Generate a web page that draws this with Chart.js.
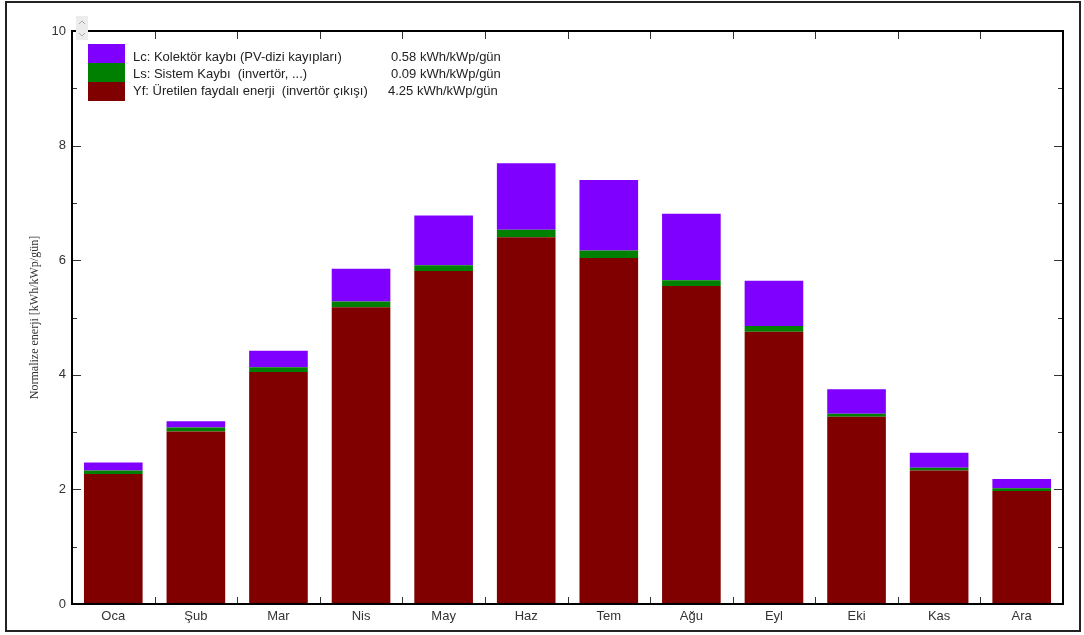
<!DOCTYPE html>
<html>
<head>
<meta charset="utf-8">
<script src="https://cdn.jsdelivr.net/npm/chart.js@4"></script>
<style>
  html, body { margin: 0; padding: 0; background: #fff; }
  #wrap { position: relative; width: 1084px; height: 635px; }
</style>
</head>
<body>
<div id="wrap"><canvas id="energyChart" width="1084" height="635"></canvas></div>
<script>
// Monthly normalized energy [kWh/kWp/gün]
const months = ['Oca', 'Şub', 'Mar', 'Nis', 'May', 'Haz', 'Tem', 'Ağu', 'Eyl', 'Eki', 'Kas', 'Ara'];
const yfValues = [2.27, 3.01, 4.05, 5.18, 5.81, 6.40, 6.04, 5.55, 4.75, 3.27, 2.33, 1.97];
const lsValues = [0.06, 0.07, 0.08, 0.10, 0.10, 0.13, 0.13, 0.10, 0.10, 0.05, 0.05, 0.05];
const lcValues = [0.14, 0.11, 0.29, 0.57, 0.87, 1.16, 1.23, 1.16, 0.79, 0.43, 0.26, 0.16];

const legendLabels = [
    'Lc: Kolektör kaybı (PV-dizi kayıpları)',
    'Ls: Sistem Kaybı  (invertör, ...)',
    'Yf: Üretilen faydalı enerji  (invertör çıkışı)'
];
const legendAverages = ['0.58 kWh/kWp/gün', '0.09 kWh/kWp/gün', '4.25 kWh/kWp/gün'];
const legendColors = ['#8000ff', '#008000', '#800000'];

const textColor = '#333';
const sansFont = "Arial, 'Liberation Sans', sans-serif";

// frame, inward ticks, legend box and the little scroll arrows
const framePlugin = {
    id: 'frame',
    beforeDraw(chart) {
        const ctx = chart.ctx;
        ctx.save();
        ctx.strokeStyle = '#222';
        ctx.lineWidth = 2;
        ctx.strokeRect(6, 2, chart.width - 10, chart.height - 6);
        ctx.restore();
    },
    afterDraw(chart) {
        const { ctx, chartArea: a, scales: { x, y } } = chart;
        ctx.save();

        // tick marks on the left and right axes
        ctx.strokeStyle = '#333';
        ctx.lineWidth = 1;
        ctx.beginPath();
        y.ticks.forEach(t => {
            const py = Math.round(y.getPixelForValue(t.value)) + 0.5;
            const len = t.value % 2 === 0 ? 9 : 5;
            ctx.moveTo(a.left, py);
            ctx.lineTo(a.left + len, py);
            ctx.moveTo(a.right, py);
            ctx.lineTo(a.right - len, py);
        });
        // tick marks between months, top and bottom
        for (let i = 1; i < months.length; i++) {
            const px = Math.round((x.getPixelForValue(i - 1) + x.getPixelForValue(i)) / 2) + 0.5;
            ctx.moveTo(px, a.top);
            ctx.lineTo(px, a.top + 8);
            ctx.moveTo(px, a.bottom);
            ctx.lineTo(px, a.bottom - 7);
        }
        ctx.stroke();

        // plot border
        ctx.strokeStyle = '#000';
        ctx.lineWidth = 2;
        ctx.strokeRect(a.left, a.top, a.right - a.left, a.bottom - a.top);

        // scroll arrows next to the top label
        ctx.fillStyle = '#ececec';
        ctx.fillRect(a.left + 4, a.top - 15, 12, 24);
        ctx.strokeStyle = '#aaa';
        ctx.lineWidth = 1;
        ctx.beginPath();
        ctx.moveTo(a.left + 7, a.top - 7);
        ctx.lineTo(a.left + 10, a.top - 10);
        ctx.lineTo(a.left + 13, a.top - 7);
        ctx.moveTo(a.left + 7, a.top + 2);
        ctx.lineTo(a.left + 10, a.top + 5);
        ctx.lineTo(a.left + 13, a.top + 2);
        ctx.stroke();

        // legend
        const boxX = a.left + 16;
        const boxTop = a.top + 13;
        const rowH = 19;
        ctx.font = '13px ' + sansFont;
        ctx.textBaseline = 'middle';
        legendLabels.forEach((label, i) => {
            ctx.fillStyle = legendColors[i];
            ctx.fillRect(boxX, boxTop + i * rowH, 37, rowH);
            ctx.fillStyle = '#222';
            const ty = boxTop + i * 17 + 13;
            ctx.fillText(label, a.left + 61, ty);
            ctx.fillText(legendAverages[i], a.left + (i === 2 ? 316 : 319), ty);
        });

        ctx.restore();
    }
};

const ctx = document.getElementById('energyChart').getContext('2d');

new Chart(ctx, {
    type: 'bar',
    data: {
        labels: months,
        datasets: [
            { label: 'Yf', data: yfValues, backgroundColor: '#800000' },
            { label: 'Ls', data: lsValues, backgroundColor: '#008000' },
            { label: 'Lc', data: lcValues, backgroundColor: '#8000ff' }
        ]
    },
    options: {
        responsive: false,
        animation: false,
        layout: { padding: { top: 31, right: 21, left: 0, bottom: 0 } },
        datasets: {
            bar: { barPercentage: 0.71, categoryPercentage: 1, borderWidth: 0 }
        },
        plugins: {
            legend: { display: false },
            tooltip: { enabled: false }
        },
        scales: {
            x: {
                stacked: true,
                grid: { display: false, drawTicks: false },
                border: { display: false },
                ticks: { color: textColor, font: { family: sansFont, size: 13 }, padding: 5 },
                afterFit(scale) { scale.height = 31; }
            },
            y: {
                stacked: true,
                min: 0,
                max: 10,
                grid: { display: false, drawTicks: false },
                border: { display: false },
                ticks: {
                    stepSize: 1,
                    color: textColor,
                    font: { family: sansFont, size: 13 },
                    padding: 6,
                    callback: v => (v % 2 === 0 ? v : '')
                },
                title: {
                    display: true,
                    text: 'Normalize enerji [kWh/kWp/gün]',
                    color: textColor,
                    font: { family: "'Liberation Serif', 'Times New Roman', serif", size: 12 },
                    padding: { top: 28, bottom: 0 }
                },
                afterFit(scale) { scale.width = 72; }
            }
        }
    },
    plugins: [framePlugin]
});
</script>
</body>
</html>
